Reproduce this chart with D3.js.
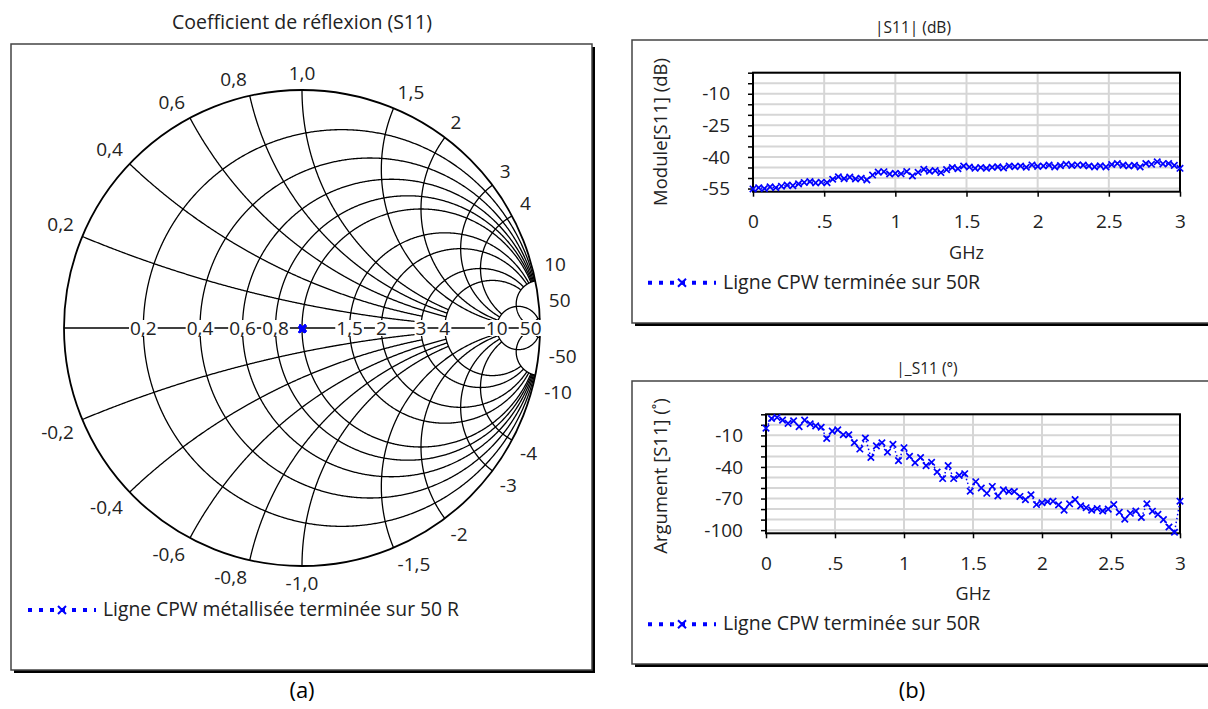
<!DOCTYPE html>
<html>
<head>
<meta charset="utf-8">
<title>S11</title>
<script src="https://d3js.org/d3.v7.min.js"></script>
<style>
  body { margin: 0; background: #fff; }
  svg { display: block; font-family: "Open Sans", Lato, sans-serif; }
</style>
</head>
<body>
<svg width="1208" height="709"></svg>
<script>
// ---- data ----
const freq = [0, .04, .08, .12, .16, .2, .24, .28, .32, .36, .4, .44, .48, .52, .56, .6, .64, .68, .72, .76,
  .8, .84, .88, .92, .96, 1, 1.04, 1.08, 1.12, 1.16, 1.2, 1.24, 1.28, 1.32, 1.36, 1.4, 1.44, 1.48, 1.52, 1.56,
  1.6, 1.64, 1.68, 1.72, 1.76, 1.8, 1.84, 1.88, 1.92, 1.96, 2, 2.04, 2.08, 2.12, 2.16, 2.2, 2.24, 2.28, 2.32, 2.36,
  2.4, 2.44, 2.48, 2.52, 2.56, 2.6, 2.64, 2.68, 2.72, 2.76, 2.8, 2.84, 2.88, 2.92, 2.96, 3];
const s11dB = [-55.2, -54.6, -55.0, -54.2, -54.6, -53.9, -53.4, -53.6, -52.8, -52.1, -51.7, -52.3, -52.0, -52.2, -50.6,
  -49.4, -50.3, -49.6, -50.4, -50.1, -50.9, -48.6, -47.2, -47.0, -48.1, -47.8, -48.0, -46.9, -49.0, -47.3,
  -45.9, -46.8, -46.5, -47.4, -46.0, -45.0, -45.6, -44.3, -44.8, -45.4, -45.0, -45.4, -44.9, -44.7, -45.2,
  -44.3, -44.6, -44.3, -44.9, -43.8, -44.5, -44.3, -43.9, -44.7, -44.1, -43.5, -44.0, -43.8, -43.9, -44.3,
  -44.7, -44.2, -44.7, -43.6, -43.1, -43.9, -44.3, -44.0, -44.7, -43.1, -43.5, -42.3, -43.3, -43.1, -44.0, -45.4];
const s11Phase = [-3.2, 6.0, 7.0, 4.5, 1.4, 3.8, -1.7, 4.5, 1.0, -1.0, -2.3, -13.0, -6.0, -4.8, -9.4, -9.4, -17.0,
  -23.0, -12.5, -31.0, -20.0, -17.0, -26.0, -18.6, -34.0, -21.7, -30.0, -36.0, -31.0, -38.7, -35.6, -44.8,
  -51.0, -38.7, -51.0, -48.0, -46.4, -63.0, -54.0, -60.0, -65.0, -58.5, -67.6, -61.8, -63.3, -63.3, -68.0,
  -71.0, -66.4, -75.7, -74.0, -73.0, -72.5, -76.0, -81.0, -75.0, -71.0, -77.0, -78.7, -81.0, -79.5, -81.8,
  -80.0, -75.7, -83.0, -89.5, -84.0, -81.8, -88.0, -75.0, -82.0, -85.0, -90.0, -97.0, -102.0, -72.5];

// abaque : valeurs des cercles, étiquettes, et limite de tracé de chaque ligne
const resistVals = [0.2, 0.4, 0.6, 0.8, 1, 1.5, 2, 3, 4, 10, 50];
const resistLabels = ["0,2", "0,4", "0,6", "0,8", "", "1,5", "2", "3", "4", "10", "50"];
const resistMaxX = [10, 10, 10, 10, 10, 10, 10, 10, 10, 50, 50];
const reactVals = [0.2, 0.4, 0.6, 0.8, 1, 1.5, 2, 3, 4, 10, 50];
const reactLabels = ["0,2", "0,4", "0,6", "0,8", "1,0", "1,5", "2", "3", "4", "10", "50"];
const reactMaxR = [3, 3, 4, 4, 4, 10, 10, 10, 10, 50, 50];

const ghzTicks = [0, 0.5, 1, 1.5, 2, 2.5, 3];
const ghzLabels = ["0", ".5", "1", "1.5", "2", "2.5", "3"];
const dbLabelTicks = [-10, -25, -40, -55];
const phaseLabelTicks = [-10, -40, -70, -100];

const blue = "#0000ff";
const svg = d3.select("svg");

// cadre avec ombre
function frame(x, y, w, h) {
  svg.append("rect").attr("x", x + 3).attr("y", y + 3).attr("width", w).attr("height", h).attr("fill", "#000");
  svg.append("rect").attr("x", x).attr("y", y).attr("width", w).attr("height", h)
    .attr("fill", "#fff").attr("stroke", "#444").attr("stroke-width", 1.5);
}

function crossPath(s) {
  return "M" + (-s) + "," + (-s) + "L" + s + "," + s + "M" + (-s) + "," + s + "L" + s + "," + (-s);
}

function legend(x, y, label, size) {
  var g = svg.append("g").attr("transform", "translate(" + x + "," + y + ")");
  g.append("line").attr("x1", 0).attr("x2", 68).attr("y1", 0).attr("y2", 0)
    .attr("stroke", blue).attr("stroke-width", 4).attr("stroke-dasharray", "4,7");
  g.append("path").attr("d", crossPath(4)).attr("transform", "translate(34,0)")
    .attr("stroke", blue).attr("stroke-width", 2).attr("fill", "none");
  g.append("text").attr("x", 75).attr("y", 6).attr("font-size", size).attr("fill", "#222").text(label);
}

// ================= (a) abaque de Smith =================
frame(11, 44, 581, 626);
svg.append("text").attr("x", 302).attr("y", 29).attr("text-anchor", "middle")
  .attr("font-size", 19.5).attr("fill", "#222").text("Coefficient de réflexion (S11)");

var cx = 302, cy = 328, R = 238;
var sx = d3.scaleLinear().domain([-1, 1]).range([cx - R, cx + R]);
var sy = d3.scaleLinear().domain([-1, 1]).range([cy + R, cy - R]);

function gamma(r, x) {
  var d = (r + 1) * (r + 1) + x * x;
  return [(r * r + x * x - 1) / d, 2 * x / d];
}
var smithLine = d3.line().x(function (d) { return sx(d[0]); }).y(function (d) { return sy(d[1]); });
var smith = svg.append("g");

// cercles de résistance (tracés jusqu'à |x| = limite)
resistVals.forEach(function (r, i) {
  var tm = Math.atan(resistMaxX[i]);
  var pts = d3.range(-tm, tm, 0.003).concat([tm]).map(function (t) { return gamma(r, Math.tan(t)); });
  smith.append("path").attr("d", smithLine(pts)).attr("fill", "none").attr("stroke", "#000").attr("stroke-width", 1.3);
});
// arcs de réactance (tracés de r = 0 jusqu'à la limite)
reactVals.forEach(function (x, i) {
  var tm = Math.atan(reactMaxR[i]);
  [x, -x].forEach(function (xx) {
    var pts = d3.range(0, tm, 0.003).concat([tm]).map(function (t) { return gamma(Math.tan(t), xx); });
    smith.append("path").attr("d", smithLine(pts)).attr("fill", "none").attr("stroke", "#000").attr("stroke-width", 1.3);
  });
});
// axe réel et cercle extérieur
smith.append("line").attr("x1", sx(-1)).attr("x2", sx(1)).attr("y1", sy(0)).attr("y2", sy(0))
  .attr("stroke", "#000").attr("stroke-width", 1.3);
smith.append("circle").attr("cx", sx(0)).attr("cy", sy(0)).attr("r", sx(1) - sx(0))
  .attr("fill", "none").attr("stroke", "#000").attr("stroke-width", 1.8);

// étiquettes sur l'axe réel
resistVals.forEach(function (r, i) {
  if (!resistLabels[i]) return;
  var px = sx((r - 1) / (r + 1));
  var t = smith.append("text").attr("x", px).attr("y", cy + 7).attr("text-anchor", "middle")
    .attr("font-size", 19).attr("fill", "#222").text(resistLabels[i]);
  var b = t.node().getBBox();
  smith.insert("rect", function () { return t.node(); })
    .attr("x", b.x - 1).attr("y", cy - 8).attr("width", b.width + 2).attr("height", 16).attr("fill", "#fff");
});

// étiquettes de réactance autour du bord
var rimPos = reactVals.map(function (x) {
  var g = gamma(0, x);
  var a = Math.atan2(g[1], g[0]);
  return { x: cx + (R + 8) * Math.cos(a), dy: (R + 8) * Math.sin(a) + 9 };
});
// écarter les étiquettes serrées près de l'axe (côté droit)
for (var i = rimPos.length - 1, last = 0; i >= 0; i--) {
  var right = rimPos[i].x > cx + 200;
  var need = last === 0 ? 28 : last + 36;
  if (right && rimPos[i].dy < need) rimPos[i].dy = need;
  if (right) last = rimPos[i].dy;
}
reactVals.forEach(function (x, i) {
  var p = rimPos[i];
  var anchor = Math.abs(p.x - cx) < 5 ? "middle" : (p.x < cx ? "end" : "start");
  var px = anchor === "end" ? p.x - 1 : (anchor === "start" ? p.x + 1 : p.x);
  [1, -1].forEach(function (s) {
    smith.append("text").attr("x", px).attr("y", cy - s * p.dy + 7)
      .attr("text-anchor", anchor).attr("font-size", 19).attr("fill", "#222")
      .text((s < 0 ? "-" : "") + reactLabels[i]);
  });
});

// points mesurés (S11 complexe)
var smithPts = s11dB.map(function (d, i) {
  var m = Math.pow(10, d / 20), ph = s11Phase[i] * Math.PI / 180;
  return [m * Math.cos(ph), m * Math.sin(ph)];
});
smith.append("path").attr("d", smithLine(smithPts)).attr("fill", "none")
  .attr("stroke", blue).attr("stroke-width", 1.5).attr("stroke-dasharray", "1.5,2");
smith.selectAll(".pt").data(smithPts).enter().append("path").attr("class", "pt")
  .attr("d", crossPath(3))
  .attr("transform", function (d) { return "translate(" + sx(d[0]) + "," + sy(d[1]) + ")"; })
  .attr("stroke", blue).attr("stroke-width", 1.5);

legend(28, 610, "Ligne CPW métallisée terminée sur 50 R", 19.3);
svg.append("text").attr("x", 302).attr("y", 698).attr("text-anchor", "middle")
  .attr("font-size", 22).attr("fill", "#000").text("(a)");

// ================= (b) courbes cartésiennes =================
function cartesian(o) {
  frame(632, o.boxY, 590, 283);
  svg.append("text").attr("x", o.titleX).attr("y", o.boxY - 7).attr("text-anchor", "middle")
    .attr("font-size", 15.5).attr("fill", "#222").text(o.title);

  var x = d3.scaleLinear().domain([0, 3]).range([o.left, 1180]);
  var y = d3.scaleLinear().domain(o.yDomain).range([o.bottom, o.top]);
  var g = svg.append("g");

  // grille
  g.selectAll(".hg").data(o.minor).enter().append("line")
    .attr("x1", o.left).attr("x2", 1180).attr("y1", function (d) { return y(d); }).attr("y2", function (d) { return y(d); })
    .attr("stroke", "#d6d6d6").attr("stroke-width", 2);
  g.selectAll(".vg").data(ghzTicks).enter().append("line")
    .attr("x1", function (d) { return x(d); }).attr("x2", function (d) { return x(d); })
    .attr("y1", o.top).attr("y2", o.bottom).attr("stroke", "#d6d6d6").attr("stroke-width", 2);

  // axes
  var ax = g.append("g").attr("transform", "translate(0," + o.bottom + ")")
    .call(d3.axisBottom(x).tickValues(ghzTicks).tickSizeInner(5).tickSizeOuter(0).tickPadding(18)
      .tickFormat(function (d, i) { return ghzLabels[i]; }));
  var ay = g.append("g").attr("transform", "translate(" + o.left + ",0)")
    .call(d3.axisLeft(y).tickValues(o.minor).tickSizeInner(5).tickSizeOuter(0).tickPadding(18)
      .tickFormat(function (d) { return o.labelTicks.indexOf(d) >= 0 ? d : ""; }));
  [ax, ay].forEach(function (a) {
    a.select(".domain").remove();
    a.selectAll("line").attr("stroke", "#000").attr("stroke-width", 1.5);
    a.selectAll("text").attr("font-size", 19).attr("font-family", "'Open Sans', sans-serif").attr("fill", "#222");
  });
  g.append("rect").attr("x", o.left).attr("y", o.top).attr("width", 1180 - o.left).attr("height", o.bottom - o.top)
    .attr("fill", "none").attr("stroke", "#000").attr("stroke-width", 2);

  // série
  var line = d3.line().x(function (d, i) { return x(freq[i]); }).y(function (d) { return y(d); });
  g.append("path").datum(o.values).attr("d", line).attr("fill", "none")
    .attr("stroke", blue).attr("stroke-width", 1.5).attr("stroke-dasharray", "1.5,2.5");
  g.selectAll(".mk").data(o.values).enter().append("path").attr("class", "mk")
    .attr("d", crossPath(3.2))
    .attr("transform", function (d, i) { return "translate(" + x(freq[i]) + "," + y(d) + ")"; })
    .attr("stroke", blue).attr("stroke-width", 1.7).attr("fill", "none");

  svg.append("text").attr("x", (o.left + 1180) / 2).attr("y", o.bottom + 67).attr("text-anchor", "middle")
    .attr("font-size", 18).attr("fill", "#222").text("GHz");
  svg.append("text").attr("transform", "translate(667," + o.yTitleY + ") rotate(-90)")
    .attr("text-anchor", "middle").attr("font-size", 18.5).attr("fill", "#222").text(o.yTitle);
  legend(648, o.bottom + 91, "Ligne CPW terminée sur 50R", 19.5);
}

cartesian({
  boxY: 40, title: "|S11| (dB)", titleX: 913,
  left: 753, top: 72.7, bottom: 191.7, yDomain: [-56.5, 0],
  minor: d3.range(-55, 1, 5), labelTicks: dbLabelTicks,
  values: s11dB, yTitle: "Module[S11] (dB)", yTitleY: 132
});
cartesian({
  boxY: 381, title: "|_S11 (°)", titleX: 927,
  left: 766, top: 414.3, bottom: 533.3, yDomain: [-103, 10],
  minor: d3.range(-100, 11, 10), labelTicks: phaseLabelTicks,
  values: s11Phase, yTitle: "Argument [S11] (˚)", yTitleY: 476
});

svg.append("text").attr("x", 912).attr("y", 698).attr("text-anchor", "middle")
  .attr("font-size", 22).attr("fill", "#000").text("(b)");
</script>
</body>
</html>
